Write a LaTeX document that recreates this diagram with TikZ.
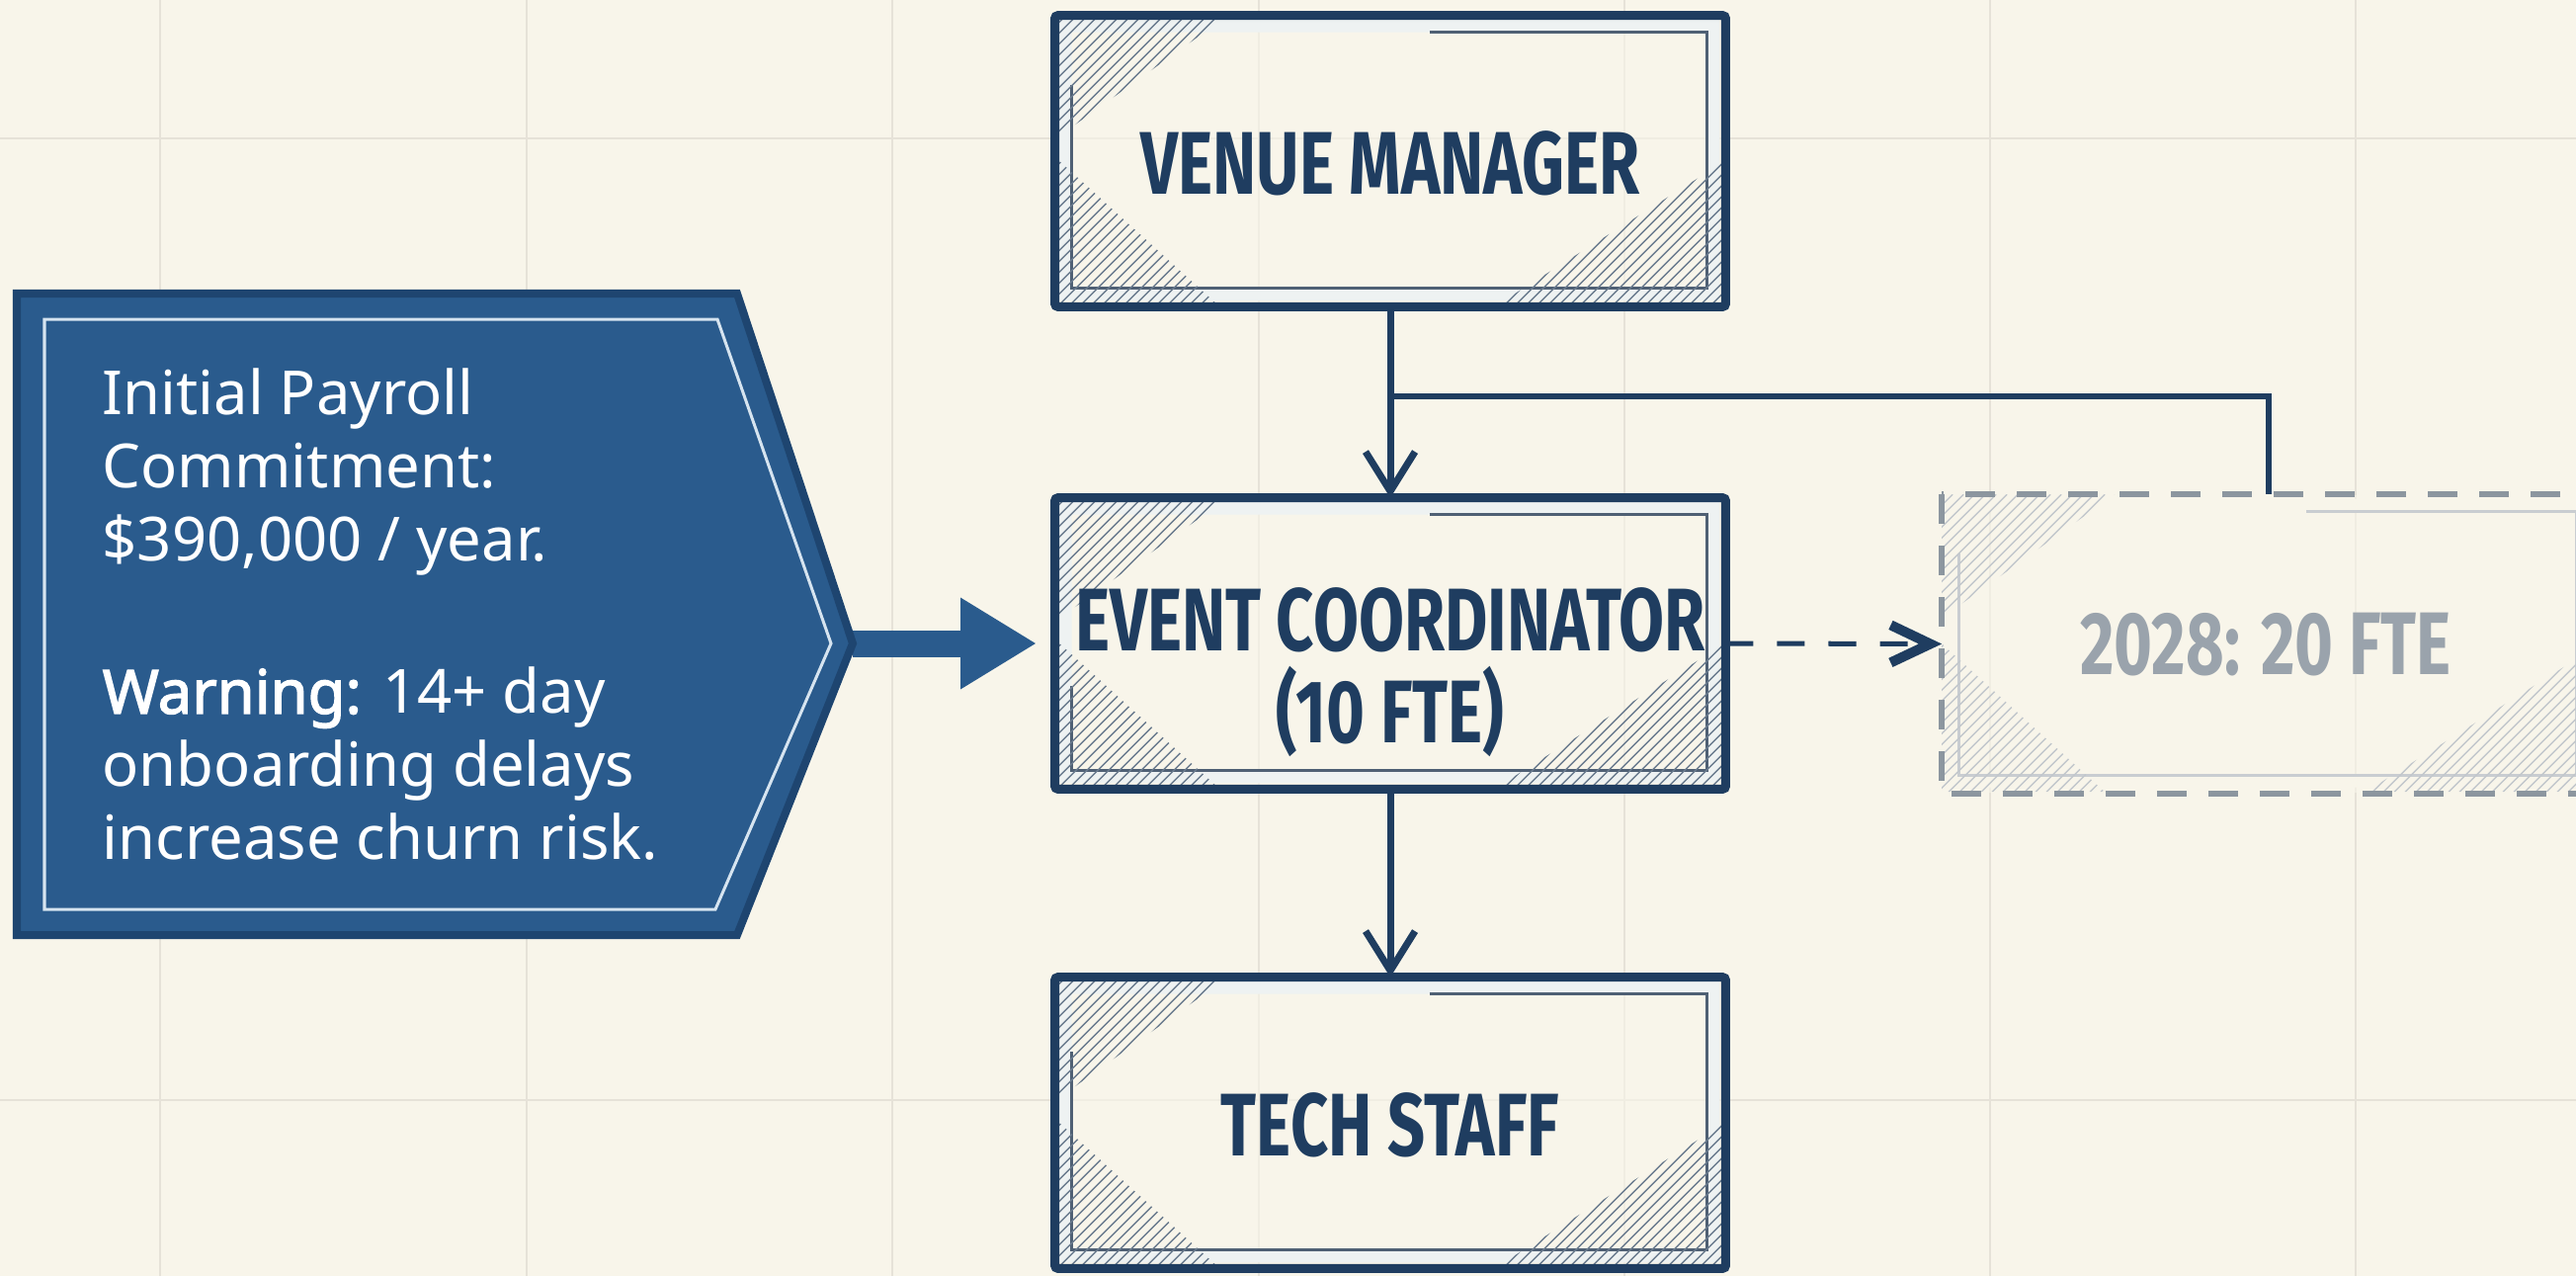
\documentclass[tikz,border=0pt]{standalone}
\usepackage{fontspec}
\usetikzlibrary{arrows.meta,calc}

\newfontfamily\headfont{Fira Sans}[FakeStretch=0.74]
\newfontfamily\notefont{Noto Sans}
\newfontfamily\notebold{Noto Sans}[FakeBold=2.2]

\definecolor{paper}{HTML}{F8F5EA}
\definecolor{gridline}{HTML}{E6E2D8}
\definecolor{navy}{HTML}{1F3D60}
\definecolor{inkgray}{HTML}{4F6074}
\definecolor{hatchnavy}{HTML}{6A7B8E}
\definecolor{band}{HTML}{EEF2F2}
\definecolor{calloutblue}{HTML}{2A5B8D}
\definecolor{calloutedge}{HTML}{1E4570}
\definecolor{calloutline}{HTML}{D6E4F0}
\definecolor{ghost}{HTML}{9AA3AC}
\definecolor{ghostedge}{HTML}{8C969F}
\definecolor{ghosthatch}{HTML}{C2C7CC}
\definecolor{ghostframe}{HTML}{C9CDD1}

% diagonal hatching in three corners of a box (local frame: origin at the north west corner, y down)
\newcommand{\cornerhatch}[4]{%
  \begin{scope}[shift={(#1.north west)}]
    \clip (0,0) -- (175,0) -- (0,125) -- cycle
          (0,#3) -- (165,#3) -- (0,#3-150) -- cycle
          (#2,#3) -- (#2-230,#3) -- (#2,#3-145) -- cycle;
    \foreach \c in {0,11,...,1100}
      \draw[#4, line width=0.014cm] (\c,0) -- (\c-#3,#3);
  \end{scope}}

% light band inside the border and the broken inner frame
\newcommand{\innerframe}[6]{%
  \begin{scope}[shift={(#1.north west)}]
    \fill[#5, even odd rule] (4.5,4.5) rectangle (#2-4.5,#3-4.5)
                             (17,17) rectangle (#2-17,#3-17);
    \draw[#4, line width=0.03cm] (0.56*#2,17) -- (#2-17,17) -- (#2-17,#3-17)
                                 -- (17,#3-17) -- (17,#6);
  \end{scope}}

\tikzset{
  orgbox/.style={minimum width=6.77cm, minimum height=2.93cm, inner sep=0pt,
    fill=paper, fill opacity=0.6, text opacity=1},
  orgborder/.style={draw=navy, line width=0.09cm, rounded corners=0.03cm},
  headtext/.style={font=\headfont\bfseries\fontsize{25.6pt}{26.5pt}\selectfont,
    text=navy, align=center, inner sep=0pt},
  conn/.style={navy, line width=0.07cm, -{Straight Barb[length=0.4cm,width=0.5cm]}},
  gridrule/.style={gridline, line width=0.025cm}
}

\begin{document}
\begin{tikzpicture}[x=0.01cm, y=-0.01cm]
  \useasboundingbox (0,0) rectangle (2607,1291);
  \clip (0,0) rectangle (2607,1291);
  \fill[paper] (0,0) rectangle (2607,1291);

  % background grid
  \foreach \x in {162,533,903,1274,1644,2014,2384}
    \draw[gridrule] (\x,0) -- (\x,1291);
  \foreach \y in {140,1113}
    \draw[gridrule] (0,\y) -- (2607,\y);

  % org chart boxes
  \node[orgbox] (venue) at (1407,163) {};
  \node[orgbox] (event) at (1407,651) {};
  \node[orgbox] (tech)  at (1407,1136) {};
  \node[orgbox, minimum width=6.59cm, minimum height=3.01cm] (future) at (2295.5,651.5) {};

  \foreach \b/\s in {venue/70, event/190, tech/75} {
    \innerframe{\b}{677}{293}{inkgray}{band}{\s}
    \cornerhatch{\b}{677}{293}{hatchnavy}
    \draw[orgborder] (\b.north west) rectangle (\b.south east);
  }

  \innerframe{future}{659}{301}{ghostframe}{paper}{60}
  \cornerhatch{future}{659}{301}{ghosthatch}
  \draw[ghostedge, line width=0.06cm, dash pattern=on 0.3cm off 0.22cm]
    (future.north west) rectangle (future.south east);

  % box labels
  \node[headtext] (venue label) at (1407,165) {VENUE MANAGER};
  \node[headtext] (event label) at (1407,680) {EVENT COORDINATOR\\(10 FTE)};
  \node[headtext] (tech label)  at (1407,1138) {TECH STAFF};
  \node[headtext, text=ghost] (future label) at (2293,652) {2028: 20 FTE};

  % reporting lines
  \coordinate (split) at ($(venue.south)!0.47!(event.north)$);
  \draw[navy, line width=0.06cm] (split) -| (future.north);
  \draw[conn] (venue) -- (event);
  \draw[conn] (event) -- (tech);
  \draw[navy, line width=0.05cm, dash pattern=on 0.28cm off 0.24cm,
        -{Straight Barb[length=0.4cm,width=0.38cm,line width=0.1cm]}]
    (event.east) -- (future.west);

  % payroll callout
  \coordinate (callout tip) at (863,651);
  \draw[calloutblue, line width=0.27cm, -{Triangle[length=0.77cm,width=0.87cm]},
        shorten >=0.185cm] (callout tip) -- (event.west);
  \filldraw[fill=calloutblue, draw=calloutedge, line width=0.08cm]
    (17,297) -- (746,297) -- (callout tip) -- (746,946) -- (17,946) -- cycle;
  \draw[calloutline, line width=0.03cm]
    (45,323) -- (726,323) -- (841,651) -- (724,920) -- (45,920) -- cycle;
  \node[anchor=north west, inner sep=0pt, text=white, align=left,
        font=\notefont\fontsize{17.5pt}{21pt}\selectfont] (note) at (103,372)
    {Initial Payroll\\Commitment:\\\$390,000 / year.\\[23pt]%
     {\notebold Warning:} 14+ day\\onboarding delays\\increase churn risk.};
\end{tikzpicture}
\end{document}
